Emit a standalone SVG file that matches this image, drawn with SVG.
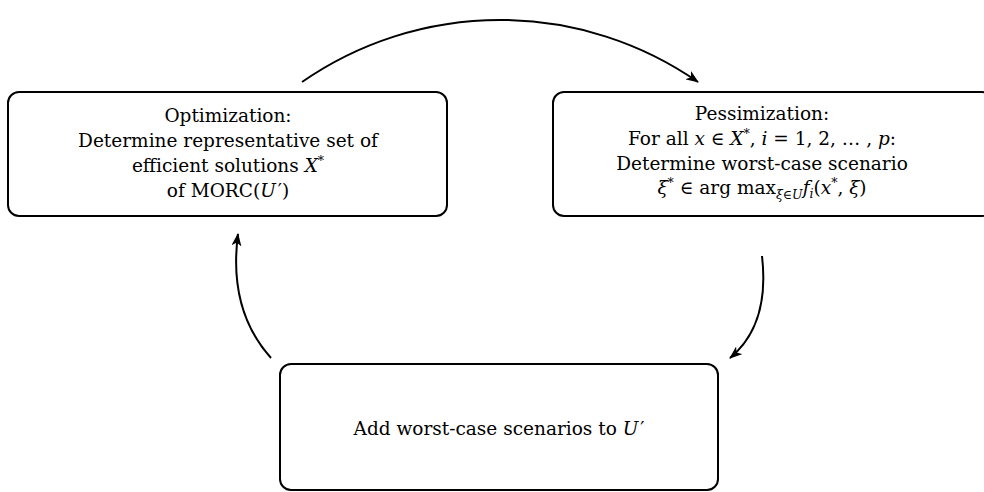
<svg xmlns="http://www.w3.org/2000/svg" width="984" height="492" viewBox="0 0 984 492">
<defs>
<marker id="ah" viewBox="0 0 13 10" refX="12" refY="5" markerWidth="13" markerHeight="10" markerUnits="userSpaceOnUse" orient="auto">
<path d="M0,0 L13,5 L0,10 L3.5,5 z" fill="#000"/>
</marker>
<style>
.box{fill:#fff;stroke:#000;stroke-width:2}
.t{font-family:"DejaVu Serif","Liberation Serif",serif;font-size:18.5px;fill:#000;text-anchor:middle}
.i{font-style:italic}
.s{font-size:12.5px}
.c{fill:none;stroke:#000;stroke-width:2}
</style>
</defs>
<rect width="984" height="492" fill="#fff"/>
<g id="connectors">
<path class="c" d="M302,82 A347,347 0 0 1 698,82" marker-end="url(#ah)"/>
<path class="c" d="M762,256 Q770,325 730,358" marker-end="url(#ah)"/>
<path class="c" d="M271,358 Q228,310 238,234" marker-end="url(#ah)"/>
</g>
<g id="optimization">
<rect class="box" x="8" y="92" width="439" height="124" rx="11"/>
<text class="t" x="228" y="122">Optimization:</text>
<text class="t" x="228" y="147">Determine representative set of</text>
<text class="t" x="228" y="172">efficient solutions <tspan class="i">X</tspan><tspan class="s" dy="-7">*</tspan></text>
<text class="t" x="228" y="197">of MORC(<tspan class="i">U</tspan><tspan dx="2">′</tspan>)</text>
</g>
<g id="pessimization">
<rect class="box" x="553" y="92" width="440" height="124" rx="11"/>
<text class="t" x="762" y="120">Pessimization:</text>
<text class="t" x="762" y="145">For all <tspan class="i">x</tspan> ∈ <tspan class="i">X</tspan><tspan class="s" dy="-7">*</tspan><tspan dy="7">, </tspan><tspan class="i">i</tspan> = 1, 2, … , <tspan class="i">p</tspan>:</text>
<text class="t" x="762" y="170">Determine worst-case scenario</text>
<text class="t" x="762" y="194"><tspan class="i">ξ</tspan><tspan class="s" dy="-7">*</tspan><tspan dy="7"> ∈ arg max</tspan><tspan class="s i" dy="5">ξ</tspan><tspan class="s">∈</tspan><tspan class="s i">U</tspan><tspan dy="-5" class="i">f</tspan><tspan class="s i" dy="4">i</tspan><tspan dy="-4">(</tspan><tspan class="i">x</tspan><tspan class="s" dy="-7">*</tspan><tspan dy="7">, </tspan><tspan class="i">ξ</tspan>)</text>
</g>
<g id="add-scenarios">
<rect class="box" x="280" y="364" width="438" height="126" rx="11"/>
<text class="t" x="499" y="435">Add worst-case scenarios to <tspan class="i">U</tspan><tspan dx="2">′</tspan></text>
</g>
</svg>
